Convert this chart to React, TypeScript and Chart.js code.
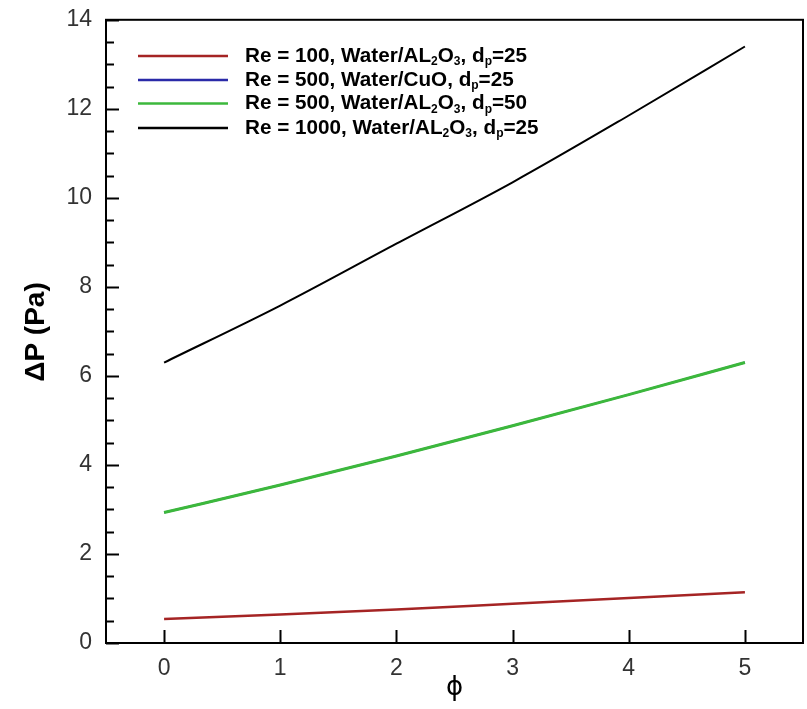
import React, { useEffect, useRef } from "react";
import { Chart, registerables } from "chart.js";

Chart.register(...registerables);

const phi = [0, 1, 2, 3, 4, 5];
const re100Al2o3 = [0.54, 0.64, 0.75, 0.88, 1.01, 1.14];
const re500Cuo = [2.93, 3.55, 4.2, 4.88, 5.58, 6.3];
const re500Al2o3dp50 = [2.93, 3.55, 4.2, 4.88, 5.58, 6.3];
const re1000Al2o3 = [6.3, 7.58, 8.97, 10.35, 11.85, 13.4];

const xTicks = [0, 1, 2, 3, 4, 5];
const yTicks = [0, 2, 4, 6, 8, 10, 12, 14];

// legend label parts: [text, isSubscript]
const legendLabels: [string, boolean][][] = [
  [["Re = 100, Water/AL", false], ["2", true], ["O", false], ["3", true], [", d", false], ["p", true], ["=25", false]],
  [["Re = 500, Water/CuO, d", false], ["p", true], ["=25", false]],
  [["Re = 500, Water/AL", false], ["2", true], ["O", false], ["3", true], [", d", false], ["p", true], ["=50", false]],
  [["Re = 1000, Water/AL", false], ["2", true], ["O", false], ["3", true], [", d", false], ["p", true], ["=25", false]],
];
const legendOrder = [0, 1, 2, 3];

const colors = ["#a52424", "#2a2aa8", "#3cb83c", "#000000"];

const decorPlugin = {
  id: "decor",
  afterDraw(chart: any) {
    const ctx = chart.ctx as CanvasRenderingContext2D;
    const { left, right, top, bottom } = chart.chartArea;
    const xs = chart.scales.x;
    const ys = chart.scales.y;
    ctx.save();
    // box
    ctx.strokeStyle = "#000";
    ctx.lineWidth = 2;
    ctx.strokeRect(left, top, right - left, bottom - top);
    // y ticks
    ctx.lineWidth = 2;
    for (let v = 0; v <= 14.001; v += 0.5) {
      const y = Math.round(ys.getPixelForValue(v)) + 0.5;
      const major = Math.abs(v / 2 - Math.round(v / 2)) < 1e-6;
      const len = major ? 13 : 8;
      ctx.beginPath();
      ctx.moveTo(left, y);
      ctx.lineTo(left + len, y);
      ctx.stroke();
    }
    for (const v of xTicks) {
      const x = Math.round(xs.getPixelForValue(v)) + 0.5;
      ctx.beginPath();
      ctx.moveTo(x, bottom);
      ctx.lineTo(x, bottom - 13);
      ctx.stroke();
    }
    // axis titles
    ctx.fillStyle = "#000";
    ctx.font = "bold 28px 'Liberation Sans', Arial, sans-serif";
    ctx.textAlign = "center";
    ctx.textBaseline = "middle";
    ctx.save();
    ctx.translate(36, 332);
    ctx.rotate(-Math.PI / 2);
    ctx.fillText("\u0394P (Pa)", 0, 0);
    ctx.restore();
    ctx.font = "26px 'DejaVu Sans', sans-serif";
    ctx.fillText("\u03d5", (left + right) / 2, 688);

    // legend
    const rowY = [56, 80, 103.5, 128];
    ctx.textAlign = "left";
    ctx.textBaseline = "middle";
    legendOrder.forEach((di, i) => {
      const ds = chart.data.datasets[di];
      const y = rowY[i];
      ctx.strokeStyle = ds.borderColor;
      ctx.lineWidth = 2.5;
      ctx.beginPath();
      ctx.moveTo(138, y);
      ctx.lineTo(228, y);
      ctx.stroke();
      let x = 245;
      ctx.fillStyle = "#000";
      for (const [t, sub] of legendLabels[di]) {
        if (sub) {
          ctx.font = "bold 12px 'Liberation Sans', Arial, sans-serif";
          ctx.fillText(t, x, y + 6);
        } else {
          ctx.font = "bold 20.7px 'Liberation Sans', Arial, sans-serif";
          ctx.fillText(t, x, y);
        }
        x += ctx.measureText(t).width;
      }
    });
    ctx.restore();
  },
};

export default function App() {
  const ref = useRef<HTMLCanvasElement | null>(null);
  useEffect(() => {
    if (!ref.current) return;
    const tickFont = { family: "'Liberation Sans', Arial, sans-serif", size: 23 };
    const chart = new Chart(ref.current, {
      type: "line",
      data: {
        labels: phi,
        datasets: [
          { label: "Re = 100, Water/AL2O3, dp=25", data: re100Al2o3, borderColor: colors[0], borderWidth: 2.5, order: 0 },
          { label: "Re = 500, Water/CuO, dp=25", data: re500Cuo, borderColor: colors[1], borderWidth: 2, order: 3 },
          { label: "Re = 500, Water/AL2O3, dp=50", data: re500Al2o3dp50, borderColor: colors[2], borderWidth: 3, order: 1 },
          { label: "Re = 1000, Water/AL2O3, dp=25", data: re1000Al2o3, borderColor: colors[3], borderWidth: 2, order: 2 },
        ].map((d) => ({
          ...d,
          data: d.data.map((v, i) => ({ x: phi[i], y: v })),
          pointRadius: 0,
          fill: false,
          cubicInterpolationMode: "monotone" as const,
        })),
      },
      options: {
        responsive: false,
        animation: false,
        layout: { padding: { top: 16, right: 4, left: 0, bottom: 0 } },
        plugins: { legend: { display: false }, tooltip: { enabled: false } },
        scales: {
          x: {
            type: "linear",
            min: -0.5,
            max: 5.5,
            grid: { display: false },
            border: { display: false },
            afterBuildTicks: (s: any) => {
              s.ticks = xTicks.map((v) => ({ value: v }));
            },
            afterFit: (s: any) => {
              s.height = 66;
            },
            ticks: { font: tickFont, color: "#333", padding: 4, maxRotation: 0 },
          },
          y: {
            type: "linear",
            min: 0,
            max: 14,
            grid: { display: false },
            border: { display: false },
            afterBuildTicks: (s: any) => {
              s.ticks = yTicks.map((v) => ({ value: v }));
            },
            afterFit: (s: any) => {
              s.width = 106;
            },
            ticks: { font: tickFont, color: "#333", padding: 6 },
          },
        },
      },
      plugins: [decorPlugin],
    });
    return () => chart.destroy();
  }, []);
  return (
    <div style={{ position: "fixed", left: 0, top: 0, width: 807, height: 709, background: "#fff" }}>
      <canvas ref={ref} width={807} height={709} />
    </div>
  );
}
